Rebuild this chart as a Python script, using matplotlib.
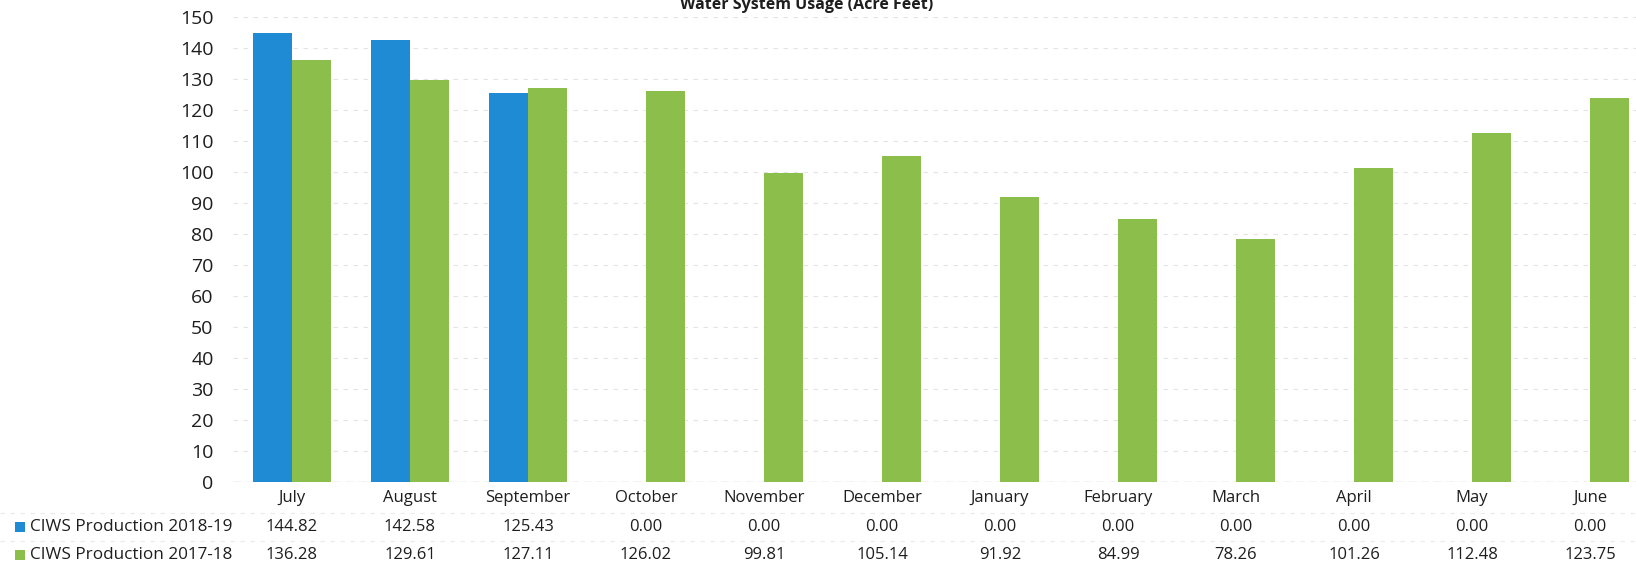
import matplotlib.pyplot as plt
import matplotlib.transforms as mtransforms
from matplotlib.patches import Rectangle
import numpy as np

months = ["July", "August", "September", "October", "November", "December",
          "January", "February", "March", "April", "May", "June"]
prod_2018_19 = [144.82, 142.58, 125.43, 0.00, 0.00, 0.00,
                0.00, 0.00, 0.00, 0.00, 0.00, 0.00]
prod_2017_18 = [136.28, 129.61, 127.11, 126.02, 99.81, 105.14,
                91.92, 84.99, 78.26, 101.26, 112.48, 123.75]
series_names = ["CIWS Production 2018-19", "CIWS Production 2017-18"]
y_ticks = list(range(0, 151, 10))

BLUE = '#1f8bd4'
GREEN = '#8cbe4b'
FONT = 'Open Sans'

W, H = 1636, 569
plt.rcParams['font.family'] = [FONT, 'DejaVu Sans']

fig = plt.figure(figsize=(W / 100, H / 100), dpi=100)
fig.patch.set_facecolor('white')

# область графика: левый край 233 px, верх 17 px, ось нуля 482 px
ax = fig.add_axes([233 / W, (H - 482) / H, 1 - 233 / W, (482 - 17) / H])

x = np.arange(len(months))
bw = 0.33
ax.bar(x - bw / 2, prod_2018_19, width=bw, color=BLUE, zorder=3)
ax.bar(x + bw / 2, prod_2017_18, width=bw, color=GREEN, zorder=3)

ax.set_xlim(-0.5, (W - 292) / 118)
ax.set_ylim(0, 150)
ax.set_yticks(y_ticks)
ax.set_xticks([])
ax.tick_params(axis='y', length=0, pad=14, labelsize=14, labelcolor='#1e1e1e')
for spine in ax.spines.values():
    spine.set_visible(False)
ax.grid(axis='y', color='#e3e3e3', linewidth=0.8, linestyle=(0, (4, 5)), zorder=0)
ax.axhline(0, color='#cfcfcf', linewidth=1.0, linestyle=(0, (6, 3)), zorder=2)

# таблица данных под графиком
trans = mtransforms.blended_transform_factory(ax.transData, fig.transFigure)
row_y = [(H - 498) / H, (H - 527) / H, (H - 555) / H]
for i, m in enumerate(months):
    ax.text(i, row_y[0], m, transform=trans, ha='center', va='center',
            fontsize=12, color='#1e1e1e', clip_on=False)
    ax.text(i, row_y[1], f"{prod_2018_19[i]:.2f}", transform=trans,
            ha='center', va='center', fontsize=12, color='#1e1e1e', clip_on=False)
    ax.text(i, row_y[2], f"{prod_2017_18[i]:.2f}", transform=trans,
            ha='center', va='center', fontsize=12, color='#1e1e1e', clip_on=False)

# подписи строк с цветными маркерами
for name, color, yy in zip(series_names, [BLUE, GREEN], row_y[1:]):
    fig.patches.append(Rectangle((15 / W, yy - 5 / H), 10 / W, 10 / H,
                                 transform=fig.transFigure, facecolor=color,
                                 edgecolor='none'))
    fig.text(30 / W, yy, name, ha='left', va='center', fontsize=12.3, color='#1e1e1e')

# слабые линии сетки таблицы
for yy in [(H - 513) / H, (H - 541) / H]:
    fig.add_artist(plt.Line2D([0, 1], [yy, yy], transform=fig.transFigure,
                              color='#ebebeb', linewidth=0.8, linestyle=(0, (4, 5))))

fig.text(807 / W, 1 - 9 / H, "Water System Usage (Acre Feet)", ha='center',
         va='baseline', fontsize=11.5, fontweight='bold', color='#1e1e1e')

fig.savefig('out.png', dpi=100, facecolor='white')
